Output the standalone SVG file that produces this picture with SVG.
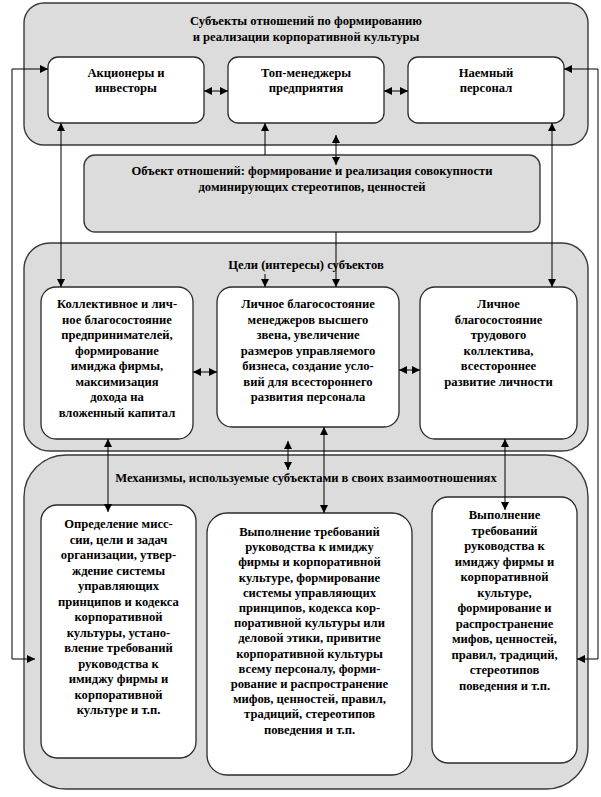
<svg xmlns="http://www.w3.org/2000/svg" width="601" height="797" viewBox="0 0 601 797">
<defs>
<style>
.panel{fill:#dcdcdc;stroke:#3a3a3a;stroke-width:1.4}
.box{fill:#ffffff;stroke:#2a2a2a;stroke-width:1.3}
.t{font-family:"Liberation Serif","Times New Roman",serif;font-weight:bold;font-size:12.6px;fill:#000;text-anchor:middle}
.c{fill:none;stroke:#000;stroke-width:1}
</style>
<marker id="ah" viewBox="0 0 10 10" refX="10" refY="5" markerWidth="8" markerHeight="8" markerUnits="userSpaceOnUse" orient="auto-start-reverse">
<path d="M0,0 L10,5 L0,10 z" fill="#000"/>
</marker>
</defs>

<g id="subjects">
<rect class="panel" x="24" y="3" width="564" height="142" rx="20"/>
<text class="t" x="306" y="25">Субъекты отношений по  формированию</text>
<text class="t" x="306" y="41">и реализации корпоративной культуры</text>
</g>
<g id="shareholders">
<rect class="box" x="48" y="57" width="156" height="66" rx="10"/>
<text class="t" x="126" y="77">Акционеры и</text>
<text class="t" x="126" y="92">инвесторы</text>
</g>
<g id="topmanagers">
<rect class="box" x="228" y="57" width="156" height="66" rx="10"/>
<text class="t" x="306" y="77">Топ-менеджеры</text>
<text class="t" x="306" y="92">предприятия</text>
</g>
<g id="staff">
<rect class="box" x="408" y="57" width="156" height="66" rx="10"/>
<text class="t" x="486" y="77">Наемный</text>
<text class="t" x="486" y="92">персонал</text>
</g>

<g id="object">
<rect class="panel" x="84" y="155" width="456" height="77" rx="11"/>
<text class="t" x="312" y="175">Объект отношений: формирование и реализация совокупности</text>
<text class="t" x="312" y="191">доминирующих стереотипов, ценностей</text>
</g>

<g id="goals">
<rect class="panel" x="24" y="243" width="564" height="208" rx="26"/>
<text class="t" x="306" y="269">Цели (интересы) субъектов</text>
</g>
<g id="goal1">
<rect class="box" x="41" y="287" width="152" height="152" rx="15"/>
<text class="t" x="117" y="308">Коллективное  и лич-</text>
<text class="t" x="117" y="323.5">ное благосостояние</text>
<text class="t" x="117" y="339">предпринимателей,</text>
<text class="t" x="117" y="354.5">формирование</text>
<text class="t" x="117" y="370">имиджа фирмы,</text>
<text class="t" x="117" y="385.5">максимизация</text>
<text class="t" x="117" y="401">дохода    на</text>
<text class="t" x="117" y="416.5">вложенный капитал</text>
</g>
<g id="goal2">
<rect class="box" x="217" y="287" width="182" height="140" rx="15"/>
<text class="t" x="308" y="308">Личное благосостояние</text>
<text class="t" x="308" y="323.5">менеджеров высшего</text>
<text class="t" x="308" y="339">звена, увеличение</text>
<text class="t" x="308" y="354.5">размеров управляемого</text>
<text class="t" x="308" y="370">бизнеса, создание усло-</text>
<text class="t" x="308" y="385.5">вий для всестороннего</text>
<text class="t" x="308" y="401">развития персонала</text>
</g>
<g id="goal3">
<rect class="box" x="420" y="287" width="157" height="152" rx="15"/>
<text class="t" x="498.5" y="308">Личное</text>
<text class="t" x="498.5" y="323.5">благосостояние</text>
<text class="t" x="498.5" y="339">трудового</text>
<text class="t" x="498.5" y="354.5">коллектива,</text>
<text class="t" x="498.5" y="370">всестороннее</text>
<text class="t" x="498.5" y="385.5">развитие  личности</text>
</g>

<g id="mechanisms">
<rect class="panel" x="24" y="455" width="564" height="334" rx="42"/>
<text class="t" x="306" y="482">Механизмы, используемые субъектами в своих взаимоотношениях</text>
</g>
<g id="mech1">
<rect class="box" x="41" y="505" width="155" height="253" rx="16"/>
<text class="t" x="118.5" y="528">Определение  мисс-</text>
<text class="t" x="118.5" y="543.5">сии, цели и задач</text>
<text class="t" x="118.5" y="559">организации, утвер-</text>
<text class="t" x="118.5" y="574.5">ждение  системы</text>
<text class="t" x="118.5" y="590">управляющих</text>
<text class="t" x="118.5" y="605.5">принципов и кодекса</text>
<text class="t" x="118.5" y="621">корпоративной</text>
<text class="t" x="118.5" y="636.5">культуры,  устано-</text>
<text class="t" x="118.5" y="652">вление  требований</text>
<text class="t" x="118.5" y="667.5">руководства к</text>
<text class="t" x="118.5" y="683">имиджу фирмы и</text>
<text class="t" x="118.5" y="698.5">корпоративной</text>
<text class="t" x="118.5" y="714">культуре и т.п.</text>
</g>
<g id="mech2">
<rect class="box" x="207" y="513" width="205" height="262" rx="20"/>
<text class="t" x="309.5" y="536">Выполнение  требований</text>
<text class="t" x="309.5" y="551.2">руководства к имиджу</text>
<text class="t" x="309.5" y="566.4">фирмы и корпоративной</text>
<text class="t" x="309.5" y="581.6">культуре,  формирование</text>
<text class="t" x="309.5" y="596.8">системы управляющих</text>
<text class="t" x="309.5" y="612">принципов, кодекса кор-</text>
<text class="t" x="309.5" y="627.2">поративной культуры или</text>
<text class="t" x="309.5" y="642.4">деловой этики,  привитие</text>
<text class="t" x="309.5" y="657.6">корпоративной культуры</text>
<text class="t" x="309.5" y="672.8">всему персоналу, форми-</text>
<text class="t" x="309.5" y="688">рование и распространение</text>
<text class="t" x="309.5" y="703.2">мифов, ценностей, правил,</text>
<text class="t" x="309.5" y="718.4">традиций,  стереотипов</text>
<text class="t" x="309.5" y="733.6">поведения и т.п.</text>
</g>
<g id="mech3">
<rect class="box" x="432" y="497" width="145" height="266" rx="16"/>
<text class="t" x="504.5" y="519">Выполнение</text>
<text class="t" x="504.5" y="534.5">требований</text>
<text class="t" x="504.5" y="550">руководства к</text>
<text class="t" x="504.5" y="565.5">имиджу фирмы и</text>
<text class="t" x="504.5" y="581">корпоративной</text>
<text class="t" x="504.5" y="596.5">культуре,</text>
<text class="t" x="504.5" y="612">формирование и</text>
<text class="t" x="504.5" y="627.5">распространение</text>
<text class="t" x="504.5" y="643">мифов, ценностей,</text>
<text class="t" x="504.5" y="658.5">правил, традиций,</text>
<text class="t" x="504.5" y="674">стереотипов</text>
<text class="t" x="504.5" y="689.5">поведения и т.п.</text>
</g>

<g id="connectors">
<polyline class="c" points="48,69 12,69 12,659 35,659" marker-start="url(#ah)" marker-end="url(#ah)"/>
<polyline class="c" points="564,69 598,69 598,659 577,659" marker-start="url(#ah)" marker-end="url(#ah)"/>
<line class="c" x1="204" y1="91" x2="228" y2="91" marker-start="url(#ah)" marker-end="url(#ah)"/>
<line class="c" x1="384" y1="91" x2="408" y2="91" marker-start="url(#ah)" marker-end="url(#ah)"/>
<line class="c" x1="61" y1="123" x2="61" y2="287" marker-start="url(#ah)" marker-end="url(#ah)"/>
<line class="c" x1="552" y1="123" x2="552" y2="287" marker-start="url(#ah)" marker-end="url(#ah)"/>
<line class="c" x1="265" y1="155" x2="265" y2="123" marker-end="url(#ah)"/>
<line class="c" x1="336" y1="135" x2="336" y2="165" marker-start="url(#ah)" marker-end="url(#ah)"/>
<line class="c" x1="336" y1="232" x2="336" y2="287" marker-end="url(#ah)"/>
<line class="c" x1="265" y1="274" x2="265" y2="287" marker-end="url(#ah)"/>
<line class="c" x1="193" y1="372" x2="217" y2="372" marker-start="url(#ah)" marker-end="url(#ah)"/>
<line class="c" x1="399" y1="370" x2="420" y2="370" marker-start="url(#ah)" marker-end="url(#ah)"/>
<line class="c" x1="108" y1="439" x2="108" y2="512" marker-start="url(#ah)" marker-end="url(#ah)"/>
<line class="c" x1="288" y1="441" x2="288" y2="470" marker-start="url(#ah)" marker-end="url(#ah)"/>
<line class="c" x1="324" y1="427" x2="324" y2="513" marker-start="url(#ah)" marker-end="url(#ah)"/>
<line class="c" x1="505" y1="439" x2="505" y2="510" marker-start="url(#ah)" marker-end="url(#ah)"/>
</g>
</svg>
